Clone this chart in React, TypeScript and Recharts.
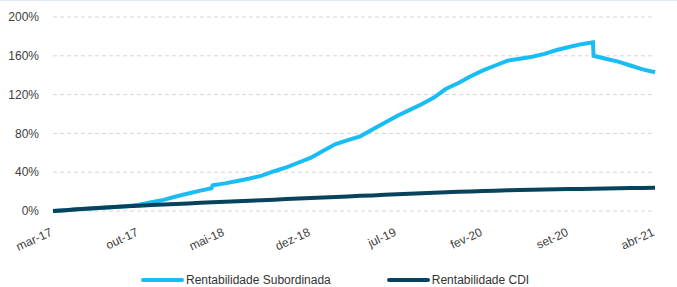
import { LineChart, Line, XAxis, YAxis, CartesianGrid } from "recharts";

// monthly, mar-17 .. abr-21 (index 0..49)
const months = [
  "mar-17", "abr-17", "mai-17", "jun-17", "jul-17", "ago-17", "set-17", "out-17", "nov-17", "dez-17",
  "jan-18", "fev-18", "mar-18", "abr-18", "mai-18", "jun-18", "jul-18", "ago-18", "set-18", "out-18",
  "nov-18", "dez-18", "jan-19", "fev-19", "mar-19", "abr-19", "mai-19", "jun-19", "jul-19", "ago-19",
  "set-19", "out-19", "nov-19", "dez-19", "jan-20", "fev-20", "mar-20", "abr-20", "mai-20", "jun-20",
  "jul-20", "ago-20", "set-20", "out-20", "nov-20", "dez-20", "jan-21", "fev-21", "mar-21", "abr-21",
];

const subordinada = [
  0, 0.8, 1.7, 2.5, 3.3, 4.1, 5.0, 6.5, 9, 11.5,
  15, 18, 21, 26.5, 28.5, 31, 33.5, 36.5, 41, 45,
  50, 55, 62, 69, 73, 77, 84, 91, 98, 104,
  110, 117, 126, 132, 139, 145, 150, 155, 157, 159,
  162, 166, 169, 172, 160, 157, 154, 150, 146, 143,
];

// value just before the step, drawn right before the month it belongs to
const subordinadaSteps = [
  { idx: 12.9, value: 23.5 },
  { idx: 43.95, value: 174 },
];

const cdi = [
  0, 0.8, 1.7, 2.5, 3.3, 4.1, 4.8, 5.5, 6.1, 6.7,
  7.3, 7.8, 8.4, 8.9, 9.5, 10.0, 10.6, 11.2, 11.7, 12.3,
  12.8, 13.4, 13.9, 14.5, 15.0, 15.6, 16.1, 16.7, 17.3, 17.9,
  18.4, 18.9, 19.3, 19.8, 20.2, 20.6, 21.0, 21.4, 21.7, 22.0,
  22.2, 22.4, 22.6, 22.8, 23.0, 23.2, 23.4, 23.6, 23.8, 24.0,
];

const xTicks = [0, 7, 14, 21, 28, 35, 42, 49];
const yTicks = [0, 40, 80, 120, 160, 200];

const LIGHT = "#19bcf4";
const DARK = "#07435c";

const subData = [
  ...subordinada.map((v, i) => ({ idx: i, value: v })),
  ...subordinadaSteps,
].sort((a, b) => a.idx - b.idx);
const cdiData = cdi.map((v, i) => ({ idx: i, value: v }));

function XTick(props: any) {
  const { x, y, payload } = props;
  return (
    <text
      x={x}
      y={y + 16}
      transform={`rotate(-25, ${x}, ${y + 16})`}
      textAnchor="end"
      fontSize={12}
      fill="#404040"
    >
      {months[payload.value]}
    </text>
  );
}

export default function App() {
  return (
    <div
      style={{
        position: "absolute",
        left: 0,
        top: 0,
        width: 677,
        height: 287,
        background: "#fff",
        borderTop: "1px solid #e0e8f2",
        boxSizing: "border-box",
        fontFamily: "'Liberation Sans', Arial, sans-serif",
      }}
    >
      <LineChart
        width={677}
        height={286}
        margin={{ top: 16, right: 22, bottom: 34, left: 0 }}
      >
        <CartesianGrid vertical={false} stroke="#d6d6d6" strokeDasharray="4 3" />
        <XAxis
          type="number"
          dataKey="idx"
          domain={[0, 49]}
          ticks={xTicks}
          tick={<XTick />}
          axisLine={false}
          tickLine={false}
          interval={0}
          height={42}
          allowDuplicatedCategory={false}
        />
        <YAxis
          type="number"
          domain={[0, 200]}
          ticks={yTicks}
          tickFormatter={(v) => `${v}%`}
          axisLine={false}
          tickLine={false}
          tickMargin={8}
          width={53}
          tick={{ fontSize: 12, fill: "#404040" }}
        />
        <Line
          data={subData}
          dataKey="value"
          type="linear"
          stroke={LIGHT}
          strokeWidth={4}
          dot={false}
          isAnimationActive={false}
        />
        <Line
          data={cdiData}
          dataKey="value"
          type="linear"
          stroke={DARK}
          strokeWidth={4}
          dot={false}
          isAnimationActive={false}
        />
      </LineChart>
      <div
        style={{
          position: "absolute",
          top: 272,
          left: 141,
          display: "flex",
          alignItems: "center",
          fontSize: 12,
          color: "#333",
        }}
      >
        <span style={{ width: 43, height: 4, borderRadius: 2, background: LIGHT, marginRight: 2 }} />
        <span>Rentabilidade Subordinada</span>
        <span style={{ width: 43, height: 4, borderRadius: 2, background: DARK, marginLeft: 56, marginRight: 2 }} />
        <span>Rentabilidade CDI</span>
      </div>
    </div>
  );
}
